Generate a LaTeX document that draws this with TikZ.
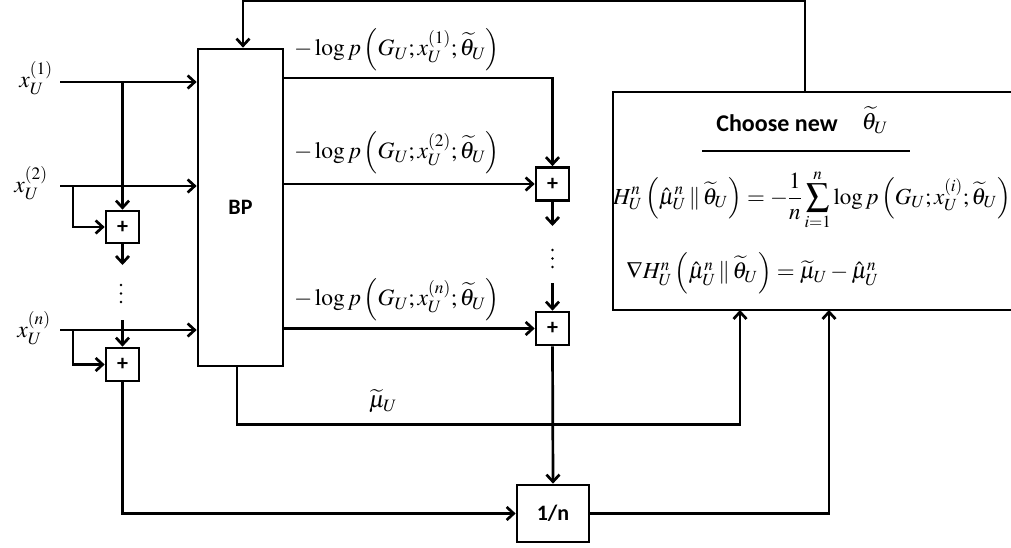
\documentclass[tikz,border=0pt]{standalone}
\usepackage{mathptmx}
\usepackage[no-math]{fontspec}
\newfontfamily\carlito{Carlito}
\usetikzlibrary{arrows.meta}
\begin{document}
\begin{tikzpicture}[x=1pt,y=-1pt,line width=2.7pt,
  >={Straight Barb[length=7pt,width=13pt]},
  box/.style={draw,rectangle,inner sep=0pt,font=\carlito\bfseries\fontsize{22}{26}\selectfont},
  ml/.style={inner sep=0pt,font=\fontsize{23.5}{28}\selectfont},
  eqs/.style={inner sep=0pt,font=\fontsize{23}{27}\selectfont},
  dot/.style={fill,circle,inner sep=0pt,minimum size=2.8pt}]
\useasboundingbox (0,0) rectangle (1011,548);
\clip (0,0) rectangle (1011,548);
% blocks
\node[box,minimum width=85pt,minimum height=317pt] (BP) at (240.5,207.5) {BP};
\node[box,minimum width=33pt,minimum height=32pt] (pl1) at (122.5,227) {+};
\node[box,minimum width=33pt,minimum height=33pt] (pln) at (122.5,364.5) {+};
\node[box,minimum width=33pt,minimum height=33pt] (pa) at (552.5,184) {+};
\node[box,minimum width=33pt,minimum height=33pt] (pb) at (552.5,328.5) {+};
\node[box,minimum width=72pt,minimum height=57pt] (inv) at (553,513.5) {1/n};
\node[draw,inner sep=0pt,minimum width=407pt,minimum height=218pt] (ch) at (816.5,201) {};
% input labels
\node[ml,anchor=east] (xl1) at (54,78) {$x_U^{(1)}$};
\node[ml,anchor=east] (xl2) at (49,183) {$x_U^{(2)}$};
\node[ml,anchor=east] (xln) at (52,328) {$x_U^{(n)}$};
\coordinate (in1) at (60,82);
\coordinate (in2) at (60,186);
\coordinate (inn) at (60,330);
\coordinate (b2) at (73,186);
\coordinate (bn) at (73,330);
% left side
\draw[->] (in1) -- (in1 -| BP.west);
\draw[->] (in1 -| pl1.north) -- (pl1.north);
\draw[->] (in2) -- (in2 -| BP.west);
\draw[->] (b2) |- (pl1.west);
\coordinate (d1) at (122.5,265);
\coordinate (d2) at (122.5,320);
\draw[->] (pl1.south) -- (d1);
\node[dot] (ld1) at (121,285) {};
\node[dot] (ld2) at (121,293.5) {};
\node[dot] (ld3) at (121,302) {};
\draw[->] (d2) -- (pln.north);
\draw[->] (inn) -- (inn -| BP.west);
\draw[->] (bn) |- (pln.west);
\draw[->] (pln.south) |- (inv.west);
% BP outputs
\coordinate (o1) at (283,78);
\draw[->] (o1) -| (pa.north);
\draw[->] (pa.west -| BP.east) -- (pa.west);
\coordinate (d3) at (552.5,226);
\coordinate (d4) at (552.5,283);
\draw[->] (pa.south) -- (d3);
\node[dot] (rd1) at (552.5,250) {};
\node[dot] (rd2) at (552.5,258.5) {};
\node[dot] (rd3) at (552.5,267) {};
\draw[->] (d4) -- (pb.north);
\draw[->] (pb.west -| BP.east) -- (pb.west);
\draw[->] (pb.south) -- (inv.north);
\node[ml] (lab1) at (397,50) {$-\log p\left(G_U; x_U^{(1)}; \widetilde{\theta}_U\right)$};
\node[ml] (lab2) at (397,153) {$-\log p\left(G_U; x_U^{(2)}; \widetilde{\theta}_U\right)$};
\node[ml] (labn) at (397,300) {$-\log p\left(G_U; x_U^{(n)}; \widetilde{\theta}_U\right)$};
% to choose box
\coordinate (c1) at (740,310);
\coordinate (c2) at (829,310);
\draw[->] ([xshift=-3.5pt]BP.south) -- ++(0,57) -| (c1);
\node[ml] (mu) at (383,401) {$\widetilde{\mu}_U$};
\draw[->] (inv.east) -| (c2);
% feedback
\coordinate (top) at (805,0.5);
\draw[->] ([xshift=-11.5pt]ch.north) -- (top) -| ([xshift=2.5pt]BP.north);
% choose box content
\node[font=\carlito\bfseries\fontsize{24}{28}\selectfont,inner sep=0pt] (cn) at (777,123) {Choose new};
\node[ml] (th) at (875,120) {$\widetilde{\theta}_U$};
\draw[line width=2pt] (702,151) -- (910,151);
\node[eqs] (eq1) at (812,200) {$\displaystyle H_U^n\left(\hat{\mu}_U^n \,\|\, \widetilde{\theta}_U\right) = -\frac{1}{n}\sum_{i=1}^{n}\log p\left(G_U; x_U^{(i)}; \widetilde{\theta}_U\right)$};
\node[eqs,anchor=west] (eq2) at (625,273) {$\nabla H_U^n\left(\hat{\mu}_U^n \,\|\, \widetilde{\theta}_U\right) = \widetilde{\mu}_U - \hat{\mu}_U^n$};
\end{tikzpicture}
\end{document}
